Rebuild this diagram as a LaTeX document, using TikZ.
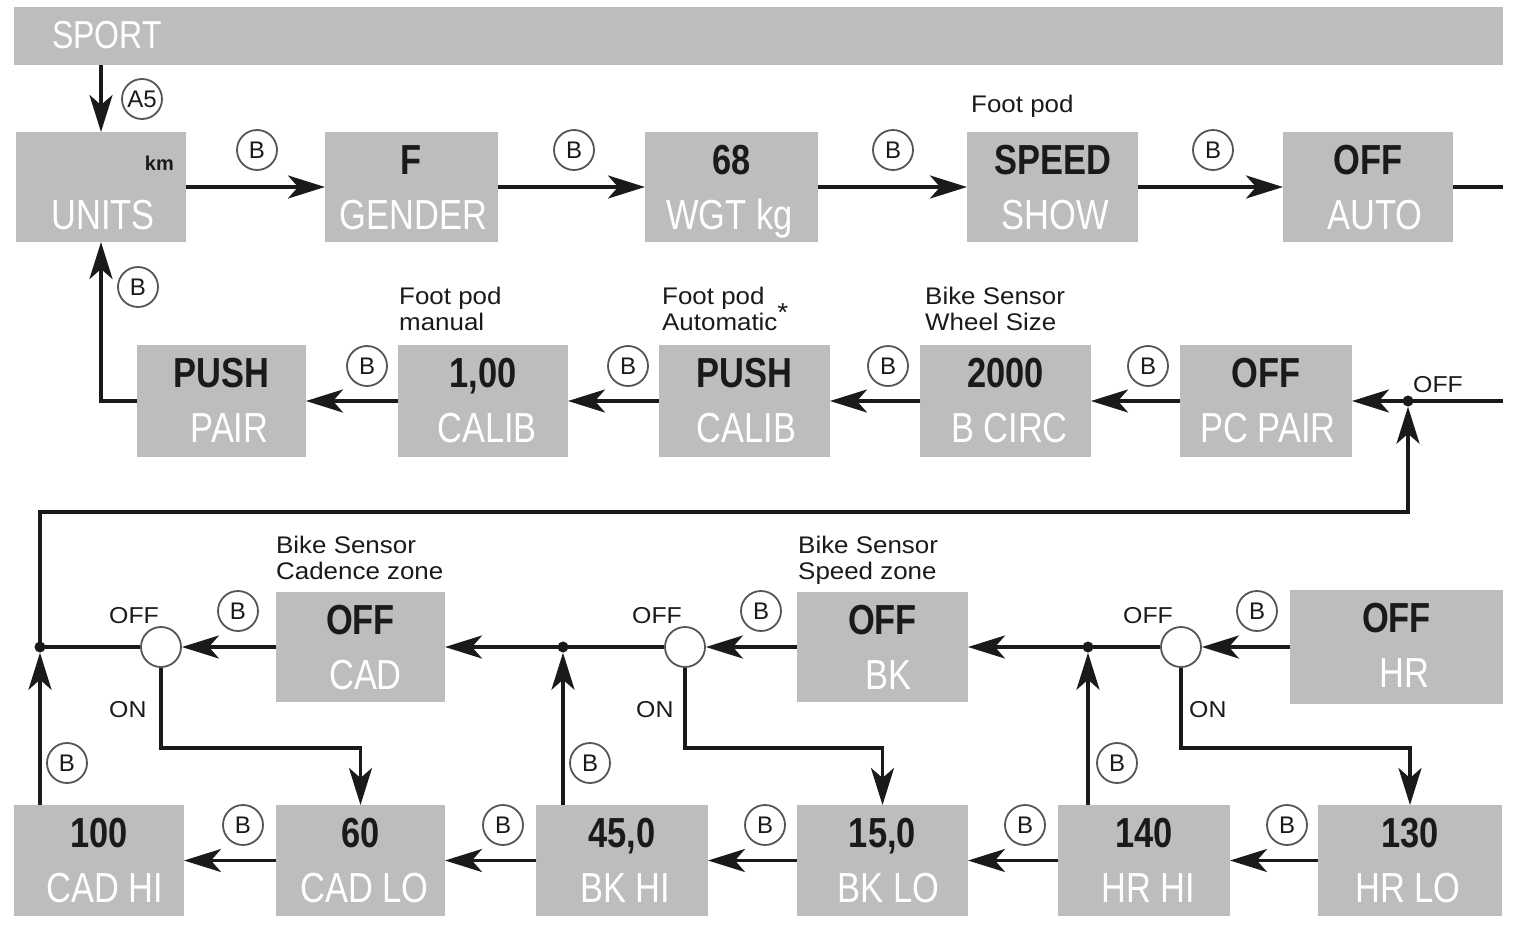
\documentclass[tikz,border=0pt]{standalone}
\usepackage{fontspec}
\setmainfont{Liberation Sans}
\newfontfamily\condfont[FakeStretch=0.82]{Liberation Sans}
\newfontfamily\labfont[FakeStretch=1.08]{Liberation Sans}
\usetikzlibrary{arrows.meta,calc}
\definecolor{boxgray}{HTML}{BDBDBD}
\definecolor{ink}{HTML}{1A1A1A}
\definecolor{ringgray}{HTML}{555555}
\tikzset{
 box/.style={fill=boxgray, draw=none, inner sep=0pt, outer sep=0pt, rectangle},
 toptext/.style={font=\condfont\bfseries\fontsize{42}{42}\selectfont, text=ink, inner sep=0pt},
 bottext/.style={font=\condfont\fontsize{42}{42}\selectfont, text=white, inner sep=0pt},
 ln/.style={draw=ink, line width=3.6pt},
 arr/.style={ln, -{Stealth[length=37pt,width=23pt,inset=10pt]}},
 bcirc/.style={circle, draw=ringgray, line width=1.8pt, minimum size=40pt, inner sep=0pt, font=\fontsize{24}{24}\selectfont, text=ink, fill=white},
 switch/.style={circle, draw=ringgray, line width=1.8pt, minimum size=40pt, inner sep=0pt, fill=white},
 jdot/.style={circle, fill=ink, minimum size=11pt, inner sep=0pt},
 lab/.style={font=\labfont\fontsize{24}{26}\selectfont, text=ink, align=left, inner sep=0pt, anchor=north west},
 small/.style={font=\labfont\fontsize{23}{23}\selectfont, text=ink, inner sep=0pt, anchor=base west},
}
\newcommand\dispbox[8]{%
 \node[box, minimum width={(#4)-(#2)}, minimum height={(#5)-(#3)}] (#1) at ({((#2)+(#4))/2},{((#3)+(#5))/2}) {};
 \node[toptext, anchor=base] (#1t) at ({((#2)+(#4))/2},{(#3)+42}) {#6};
 \node[bottext, anchor=base] (#1b) at ({((#2)+(#4))/2+(#8)},{(#3)+97}) {#7};}
\begin{document}
\begin{tikzpicture}[x=1pt,y=-1pt]
\fill[white] (0,0) rectangle (1514,929);
\useasboundingbox (0,0) rectangle (1514,929);
% top bar
\node[box, minimum width=1489pt, minimum height=58pt] (sport) at (758.5,36) {};
\node[anchor=base west, font=\condfont\fontsize{39}{39}\selectfont, text=white, inner sep=0pt] (sportt) at (52,48) {SPORT};
% row 1
\dispbox{units}{16}{132}{186}{242}{}{UNITS}{2}
\node[font=\bfseries\fontsize{20}{20}\selectfont, text=ink, anchor=base east, inner sep=0pt] (km) at (174,170) {km};
\dispbox{gender}{325}{132}{498}{242}{F}{GENDER}{2}
\dispbox{wgt}{645}{132}{818}{242}{68}{WGT kg}{-2}
\dispbox{speed}{967}{132}{1138}{242}{SPEED}{SHOW}{3}
\dispbox{autobox}{1283}{132}{1453}{242}{OFF}{AUTO}{7}
% row 2
\dispbox{pair}{137}{345}{306}{457}{PUSH}{PAIR}{8}
\dispbox{calman}{398}{345}{568}{457}{1,00}{CALIB}{4}
\dispbox{calauto}{659}{345}{830}{457}{PUSH}{CALIB}{2}
\dispbox{wheel}{920}{345}{1091}{457}{2000}{B CIRC}{4}
\dispbox{pcpair}{1180}{345}{1352}{457}{OFF}{PC PAIR}{2}
% row 3
\dispbox{cad}{276}{592}{445}{702}{OFF}{CAD}{5}
\dispbox{bk}{797}{592}{968}{702}{OFF}{BK}{6}
\dispbox{hr}{1290}{590}{1503}{704}{OFF}{HR}{8}
% row 4
\dispbox{cadhi}{14}{805}{184}{916}{100}{CAD HI}{6}
\dispbox{cadlo}{276}{805}{445}{916}{60}{CAD LO}{4}
\dispbox{bkhi}{536}{805}{708}{916}{45,0}{BK HI}{3}
\dispbox{bklo}{797}{805}{968}{916}{15,0}{BK LO}{6}
\dispbox{hrhi}{1058}{805}{1230}{916}{140}{HR HI}{4}
\dispbox{hrlo}{1318}{805}{1502}{916}{130}{HR LO}{-2}
% labels above boxes
\node[lab] (lspeed) at (971,95) {Foot pod};
\node[lab] (lcalman) at (399,287) {Foot pod\\manual};
\node[lab] (lcalauto) at (662,287) {Foot pod\\Automatic\smash{\raisebox{9pt}{\fontsize{26}{26}\selectfont *}}};
\node[lab] (lwheel) at (925,287) {Bike Sensor\\Wheel Size};
\node[lab] (lcad) at (276,536) {Bike Sensor\\Cadence zone};
\node[lab] (lbk) at (798,536) {Bike Sensor\\Speed zone};
% junctions and switches
\node[jdot] (j0) at (1408,401) {};
\node[jdot] (jc) at (40,647) {};
\node[jdot] (j2) at (563,647) {};
\node[jdot] (j3) at (1088,647) {};
\node[switch] (s1) at (161,647) {};
\node[switch] (s2) at (685,647) {};
\node[switch] (s3) at (1181,647) {};
\coordinate (r1end) at (1503,187);
\coordinate (r2end) at (1503,401);
\coordinate (lpL) at (40,512);
\coordinate (on1) at (161,748);
\coordinate (on2) at (685,748);
\coordinate (on3) at (1181,748);
% row 1 connectors
\draw[arr] (sport.south -| units.north) -- (units.north);
\draw[arr] (units.east) -- (gender.west);
\draw[arr] (gender.east) -- (wgt.west);
\draw[arr] (wgt.east) -- (speed.west);
\draw[arr] (speed.east) -- (autobox.west);
\draw[ln] (autobox.east) -- (r1end);
% row 2 connectors
\draw[ln] (r2end) -- (j0.center);
\draw[arr] (j0.center) -- (pcpair.east);
\draw[arr] (pcpair.west) -- (wheel.east);
\draw[arr] (wheel.west) -- (calauto.east);
\draw[arr] (calauto.west) -- (calman.east);
\draw[arr] (calman.west) -- (pair.east);
\draw[arr] (pair.west) -| (units.south);
% loop back
\draw[arr] (jc.center) -- (lpL) -| (j0.south);
% row 3 connectors
\draw[arr] (hr.west) -- (s3.east);
\draw[ln] (s3.west) -- (j3.center);
\draw[arr] (j3.center) -- (bk.east);
\draw[arr] (bk.west) -- (s2.east);
\draw[ln] (s2.west) -- (j2.center);
\draw[arr] (j2.center) -- (cad.east);
\draw[arr] (cad.west) -- (s1.east);
\draw[ln] (s1.west) -- (jc.center);
% ON branches
\draw[arr] (s1.south) -- (on1) -| (cadlo.north);
\draw[arr] (s2.south) -- (on2) -| (bklo.north);
\draw[arr] (s3.south) -- (on3) -| (hrlo.north);
% row 4 connectors
\draw[arr] (hrlo.west) -- (hrhi.east);
\draw[arr] (hrhi.west) -- (bklo.east);
\draw[arr] (bklo.west) -- (bkhi.east);
\draw[arr] (bkhi.west) -- (cadlo.east);
\draw[arr] (cadlo.west) -- (cadhi.east);
\draw[arr] (jc |- cadhi.north) -- (jc.south);
\draw[arr] (j2 |- bkhi.north) -- (j2.south);
\draw[arr] (j3 |- hrhi.north) -- (j3.south);
% OFF / ON labels
\node[small] (offj0) at (1413,392) {OFF};
\node[small] (off1) at (109,623) {OFF};
\node[small] (off2) at (632,623) {OFF};
\node[small] (off3) at (1123,623) {OFF};
\node[small] (on1t) at (109,717) {ON};
\node[small] (on2t) at (636,717) {ON};
\node[small] (on3t) at (1189,717) {ON};
% button circles
\node[bcirc] (a5) at (142,99) {A5};
\node[bcirc] (b1) at (257,150) {B};
\node[bcirc] (b2) at (574,150) {B};
\node[bcirc] (b3) at (893,150) {B};
\node[bcirc] (b4) at (1213,150) {B};
\node[bcirc] (b5) at (138,287) {B};
\node[bcirc] (b6) at (367,366) {B};
\node[bcirc] (b7) at (628,366) {B};
\node[bcirc] (b8) at (888,366) {B};
\node[bcirc] (b9) at (1148,366) {B};
\node[bcirc] (b10) at (238,611) {B};
\node[bcirc] (b11) at (761,611) {B};
\node[bcirc] (b12) at (1257,611) {B};
\node[bcirc] (b13) at (67,763) {B};
\node[bcirc] (b14) at (590,763) {B};
\node[bcirc] (b15) at (1117,763) {B};
\node[bcirc] (b16) at (243,825) {B};
\node[bcirc] (b17) at (503,825) {B};
\node[bcirc] (b18) at (765,825) {B};
\node[bcirc] (b19) at (1025,825) {B};
\node[bcirc] (b20) at (1287,825) {B};
\end{tikzpicture}
\end{document}
